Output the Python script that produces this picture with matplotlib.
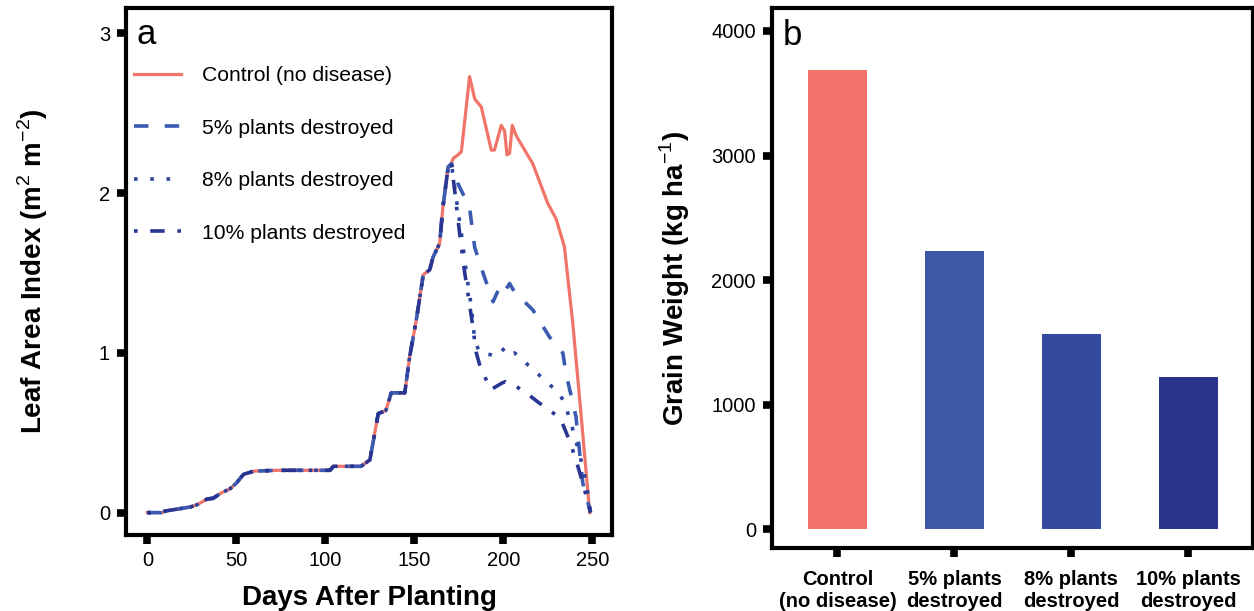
import matplotlib.pyplot as plt
import numpy as np

plt.rcParams['font.family'] = ['Liberation Sans', 'DejaVu Sans']
plt.rcParams['mathtext.fontset'] = 'custom'
plt.rcParams['mathtext.rm'] = 'Liberation Sans'
plt.rcParams['mathtext.bf'] = 'Liberation Sans:bold'

# ---- panel a: leaf area index ----
# shared part of the season (all runs identical until ~day 170)
early_days = [0, 8, 10, 24, 28, 33.5, 37, 41, 46.5, 50, 54, 60, 73, 102.6, 104.5,
              120, 125, 129.7, 134, 137, 144.6, 147.4, 151, 155, 158.6, 160.5,
              164.2, 166, 169, 170.8]
early_lai = [0, 0, 0.01, 0.035, 0.05, 0.085, 0.09, 0.12, 0.15, 0.185, 0.24, 0.26,
             0.265, 0.265, 0.29, 0.29, 0.33, 0.62, 0.64, 0.75, 0.75, 0.98, 1.2,
             1.49, 1.52, 1.6, 1.685, 1.91, 2.165, 2.185]

control_days = [171.7, 174.5, 176.4, 181, 183.9, 187.6, 193.2, 195, 198.8, 200.7,
                202, 203.5, 205, 207.2, 216.5, 225, 229.6, 234.3, 239, 243.6, 248.5]
control_lai = [2.217, 2.24, 2.26, 2.73, 2.59, 2.54, 2.27, 2.27, 2.425, 2.39,
               2.24, 2.25, 2.425, 2.36, 2.185, 1.935, 1.84, 1.665, 1.185, 0.62, 0.0]

d5_days = [174.5, 181, 183.9, 188.6, 194.2, 198.8, 201.6, 203.5, 206.3, 216.5,
           225.9, 233.4, 235.2, 240.8, 244.6, 249]
d5_lai = [2.06, 1.91, 1.66, 1.5, 1.32, 1.435, 1.4, 1.435, 1.38, 1.27, 1.1, 1.0,
          0.87, 0.6, 0.185, 0.0]

d8_days = [173.6, 176.4, 179.2, 182, 183.9, 186.7, 192.3, 196, 200.7, 203.5,
           206.3, 212.8, 219.3, 225, 231.5, 235.2, 239, 242.7, 246.5, 249]
d8_lai = [1.96, 1.75, 1.5, 1.29, 1.08, 1.0, 0.99, 0.977, 1.03, 0.99, 1.0, 0.935,
          0.87, 0.81, 0.75, 0.66, 0.52, 0.37, 0.19, 0.0]

d10_days = [172.6, 175.4, 178.3, 182, 184.8, 186.7, 190.4, 193, 196, 199, 201,
            203, 207.2, 212.8, 220.3, 225.9, 232.4, 237, 240.8, 244.6, 249]
d10_lai = [2.02, 1.75, 1.5, 1.23, 1.0, 0.925, 0.83, 0.77, 0.79, 0.81, 0.82,
           0.8, 0.79, 0.75, 0.685, 0.645, 0.58, 0.455, 0.33, 0.185, 0.0]

# ---- panel b: grain weight ----
treatments = ['Control\n(no disease)', '5% plants\ndestroyed',
              '8% plants\ndestroyed', '10% plants\ndestroyed']
grain_weight = [3685, 2235, 1570, 1222]
bar_colors = ['#F2736B', '#3D59A6', '#334A9E', '#29348A']

fig = plt.figure(figsize=(12.54, 6.11), dpi=100)
ax1 = fig.add_axes([0.1005, 0.1244, 0.3875, 0.8626])
ax2 = fig.add_axes([0.6156, 0.103, 0.3834, 0.884])

for ax in (ax1, ax2):
    for s in ax.spines.values():
        s.set_linewidth(3)
    ax.tick_params(direction='out', length=6.5, width=5.5, labelsize=14.5, pad=5)

ax1.plot(early_days + control_days, early_lai + control_lai, color='#F07468',
         lw=2.3, label='Control (no disease)', zorder=2)
ax1.plot(early_days + d5_days, early_lai + d5_lai, color='#3A5BB0', lw=2.6,
         dashes=(4, 4.5), label='5% plants destroyed', zorder=3)
ax1.plot(early_days + d8_days, early_lai + d8_lai, color='#2B45A0', lw=2.6,
         dashes=(1, 3.5), label='8% plants destroyed', zorder=4)
ax1.plot(early_days + d10_days, early_lai + d10_lai, color='#283593', lw=2.6,
         dashes=(1, 3.5, 4, 3.5), label='10% plants destroyed', zorder=5)

ax1.set_xlim(-12, 261)
ax1.set_ylim(-0.14, 3.16)
ax1.set_xticks([0, 50, 100, 150, 200, 250])
ax1.set_yticks([0, 1, 2, 3])
ax1.set_xlabel('Days After Planting', fontsize=20, fontweight='bold', labelpad=11)
ax1.set_ylabel('Leaf Area Index (m$^2$ m$^{-2}$)', fontsize=20,
               fontweight='bold', labelpad=35)
ax1.text(0.022, 0.98, 'a', transform=ax1.transAxes, va='top', ha='left',
         fontsize=25)
ax1.legend(loc='upper left', bbox_to_anchor=(0.0, 0.905), frameon=False,
           fontsize=15.2, handlelength=2.2, handletextpad=1.0,
           labelspacing=1.58, borderaxespad=0, borderpad=0.4)

x = np.arange(len(treatments))
ax2.bar(x, grain_weight, width=0.5, color=bar_colors)
ax2.set_xlim(-0.56, 3.55)
ax2.set_ylim(-150, 4185)
ax2.set_yticks([0, 1000, 2000, 3000, 4000])
ax2.set_xticks(x)
ax2.set_xticklabels(treatments, fontsize=14.5, fontweight='bold', linespacing=1.2)
ax2.tick_params(axis='x', pad=9)
ax2.set_ylabel('Grain Weight (kg ha$^{-1}$)', fontsize=20, fontweight='bold',
               labelpad=14)
ax2.text(0.022, 0.98, 'b', transform=ax2.transAxes, va='top', ha='left',
         fontsize=25)

fig.savefig('out.png', dpi=100)
